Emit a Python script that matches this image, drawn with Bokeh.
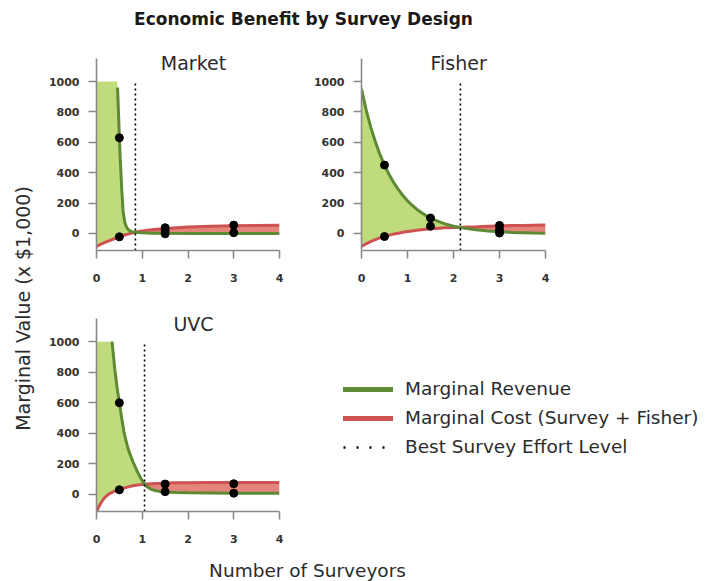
import numpy as np
from bokeh.plotting import figure
from bokeh.models import Range1d, FixedTicker, Label, Legend, LegendItem
from bokeh.layouts import row, column
from bokeh.embed import file_html
from bokeh.resources import INLINE

nan = float("nan")

# ---------------- data ----------------
title_text = "Economic Benefit by Survey Design"
y_label_text = "Marginal Value (x $1,000)"
x_label_text = "Number of Surveyors"
legend_labels = ["Marginal Revenue", "Marginal Cost (Survey + Fisher)", "Best Survey Effort Level"]

x_ticks = [0, 1, 2, 3, 4]
y_ticks = [0, 200, 400, 600, 800, 1000]
y_cap = 1000          # revenue curve is cut off at this value
y_lo, y_top, y_hi = -112, 1150, 1270

market_x = [0, 0.1, 0.2, 0.3, 0.4, 0.45, 0.46, 0.48, 0.5, 0.52, 0.55, 0.58, 0.62, 0.66,
            0.7, 0.75, 0.8, 0.85, 0.9, 1.0, 1.2, 1.5, 2.0, 2.5, 3.0, 3.5, 4.0]
market_revenue = [nan, nan, nan, nan, nan, nan, 960, 800, 630, 480, 300, 150, 70, 40,
                  24, 14, 10, 8, 6, 4, 2, 1, 0, 0, 0, 0, 0]
market_cost = [-85, -70, -57, -45, -33, -27, -26, -24, -22, -20, -17, -14, -10, -6,
               -3, 1, 5, 8, 11, 16, 24, 33, 42, 48, 51, 53, 54]
market_best = 0.85
market_pts_x = [0.5, 0.5, 1.5, 1.5, 1.5, 3, 3]
market_pts_y = [630, -22, 38, 18, -2, 55, 5]

fisher_x = [0, 0.1, 0.2, 0.3, 0.4, 0.5, 0.6, 0.7, 0.8, 0.9, 1.0, 1.1, 1.2, 1.3, 1.4,
            1.5, 1.6, 1.7, 1.8, 1.9, 2.0, 2.15, 2.3, 2.5, 2.75, 3.0, 3.25, 3.5, 3.75, 4.0]
fisher_revenue = [950, 815, 700, 605, 520, 450, 388, 335, 290, 250, 215, 186, 160, 138, 118,
                  102, 88, 76, 65, 56, 48, 40, 33, 25, 17, 11, 7, 5, 3, 2]
fisher_cost = [-85, -68, -53, -40, -29, -20, -11, -4, 2, 8, 13, 17, 21, 25, 28,
               31, 33, 35, 37, 38, 39, 40, 42, 44, 47, 50, 52, 53, 54, 55]
fisher_best = 2.15
fisher_pts_x = [0.5, 0.5, 1.5, 1.5, 3, 3, 3]
fisher_pts_y = [450, -20, 102, 48, 53, 25, 3]

uvc_x = [0, 0.05, 0.1, 0.15, 0.2, 0.25, 0.3, 0.34, 0.4, 0.45, 0.5, 0.55, 0.6, 0.65, 0.7,
         0.75, 0.8, 0.85, 0.9, 0.95, 1.0, 1.05, 1.1, 1.2, 1.3, 1.4, 1.5, 1.75, 2.0, 2.5,
         3.0, 3.5, 4.0]
uvc_revenue = [nan, nan, nan, nan, nan, nan, nan, 1000, 820, 700, 600, 500, 410, 345, 290,
               250, 212, 178, 145, 115, 90, 67, 50, 33, 24, 18, 15, 12, 10, 9,
               8, 8, 8]
uvc_cost = [-115, -80, -55, -32, -15, -3, 7, 13, 21, 26, 30, 36, 41, 46, 50,
            54, 57, 60, 62, 64, 65, 67, 68, 70, 71, 72, 74, 76, 77, 78,
            78, 78, 78]
uvc_best = 1.05
uvc_pts_x = [0.5, 0.5, 1.5, 1.5, 3, 3]
uvc_pts_y = [600, 30, 68, 18, 70, 8]

# ---------------- styles ----------------
FONT = "DejaVu Sans"
TXT = "#2b2b2b"
green_fill = "#bfdb7c"
green_line = "#5e8a34"
red_fill = "#e4857c"
red_line = "#cf5252"
axis_col = "#8a8a8a"


def text_fig(w, h):
    f = figure(width=w, height=h, x_range=Range1d(0, w), y_range=Range1d(h, 0),
               x_axis_type=None, y_axis_type=None, output_backend="svg",
               toolbar_location=None, min_border=0)
    f.outline_line_color = None
    f.background_fill_color = None
    f.border_fill_color = None
    return f


def panel(name, xs, rev, cost, best, px, py, w, h, borders, title_pos):
    p = figure(width=w, height=h, x_range=Range1d(0, 4), y_range=Range1d(y_lo, y_hi),
               output_backend="svg", toolbar_location=None,
               min_border_left=borders[0], min_border_right=borders[1],
               min_border_top=borders[2], min_border_bottom=borders[3])
    p.outline_line_color = None
    p.grid.visible = False
    xs = np.array(xs, dtype=float)
    rev = np.array(rev, dtype=float)
    cost = np.array(cost, dtype=float)
    top = np.where(np.isnan(rev), y_cap, rev)
    p.varea(x=xs, y1=cost, y2=np.maximum(top, cost), fill_color=green_fill)
    p.varea(x=xs, y1=top, y2=np.maximum(cost, top), fill_color=red_fill)
    p.line(xs, cost, line_color=red_line, line_width=3)
    p.line(xs, rev, line_color=green_line, line_width=3)
    p.segment(x0=[best], y0=[y_lo], x1=[best], y1=[y_cap], line_color="black",
              line_width=1.6, line_dash="2 3")
    p.scatter(px, py, size=8, color="black")

    p.xaxis.ticker = FixedTicker(ticks=x_ticks)
    p.yaxis.ticker = FixedTicker(ticks=y_ticks)
    p.yaxis.bounds = (y_lo, y_top)
    p.axis.axis_line_color = axis_col
    p.axis.axis_line_width = 1.6
    p.axis.major_tick_line_color = axis_col
    p.axis.major_tick_line_width = 1.6
    p.axis.major_tick_out = 8
    p.axis.major_tick_in = 0
    p.axis.minor_tick_line_color = None
    p.axis.major_label_text_font = FONT
    p.axis.major_label_text_font_size = "11px"
    p.axis.major_label_text_font_style = "bold"
    p.axis.major_label_text_color = "#333333"
    p.xaxis.major_label_standoff = 15
    p.yaxis.major_label_standoff = 9

    p.add_layout(Label(x=title_pos[0], y=title_pos[1], text=name, text_align="center",
                       text_baseline="middle", text_font=FONT, text_font_size="19px",
                       text_color=TXT))
    return p


market = panel("Market", market_x, market_revenue, market_cost, market_best,
               market_pts_x, market_pts_y, 260, 260, (56, 21, 0, 50), (2.12, 1124))
fisher = panel("Fisher", fisher_x, fisher_revenue, fisher_cost, fisher_best,
               fisher_pts_x, fisher_pts_y, 411, 260, (61, 166, 0, 50), (2.11, 1124))
uvc = panel("UVC", uvc_x, uvc_revenue, uvc_cost, uvc_best,
            uvc_pts_x, uvc_pts_y, 260, 249, (56, 21, 0, 38), (2.12, 1118))

# legend panel (proxy renderers placed outside the visible range)
lg = figure(width=411, height=249, x_range=Range1d(0, 1), y_range=Range1d(0, 1),
            x_axis_type=None, y_axis_type=None, output_backend="svg",
            toolbar_location=None, min_border=0)
lg.outline_line_color = None
r1 = lg.line(x=[5, 6], y=[5, 6], line_color=green_line, line_width=5, line_cap="round")
r2 = lg.line(x=[5, 6], y=[5, 6], line_color=red_line, line_width=5, line_cap="round")
r3 = lg.line(x=[5, 6], y=[5, 6], line_color="black", line_width=2.5, line_dash="2 11")
legend = Legend(items=[LegendItem(label=legend_labels[0], renderers=[r1]),
                       LegendItem(label=legend_labels[1], renderers=[r2]),
                       LegendItem(label=legend_labels[2], renderers=[r3])],
                location=(43, 54), glyph_width=50, glyph_height=20, label_height=20,
                spacing=8, padding=0, margin=0, label_standoff=12,
                border_line_color=None, background_fill_alpha=0,
                label_text_font=FONT, label_text_font_size="18.5px",
                label_text_color=TXT)
lg.add_layout(legend)

# title, axis titles
tf = text_fig(711, 40)
tf.add_layout(Label(x=303, y=18, text=title_text, text_align="center", text_baseline="middle",
                    text_font=FONT, text_font_size="17px", text_font_style="bold",
                    text_color="#1a1a1a"))
yf = text_fig(40, 509)
yf.add_layout(Label(x=22, y=268, text=y_label_text, angle=np.pi / 2, text_align="center",
                    text_baseline="middle", text_font=FONT, text_font_size="19px",
                    text_color=TXT))
xf = text_fig(711, 32)
xf.add_layout(Label(x=307, y=21, text=x_label_text, text_align="center",
                    text_baseline="middle", text_font=FONT, text_font_size="18.5px",
                    text_color=TXT))

layout = column(tf, row(yf, column(row(market, fisher), row(uvc, lg))), xf)

with open("out.html", "w") as fh:
    fh.write(file_html(layout, INLINE))
